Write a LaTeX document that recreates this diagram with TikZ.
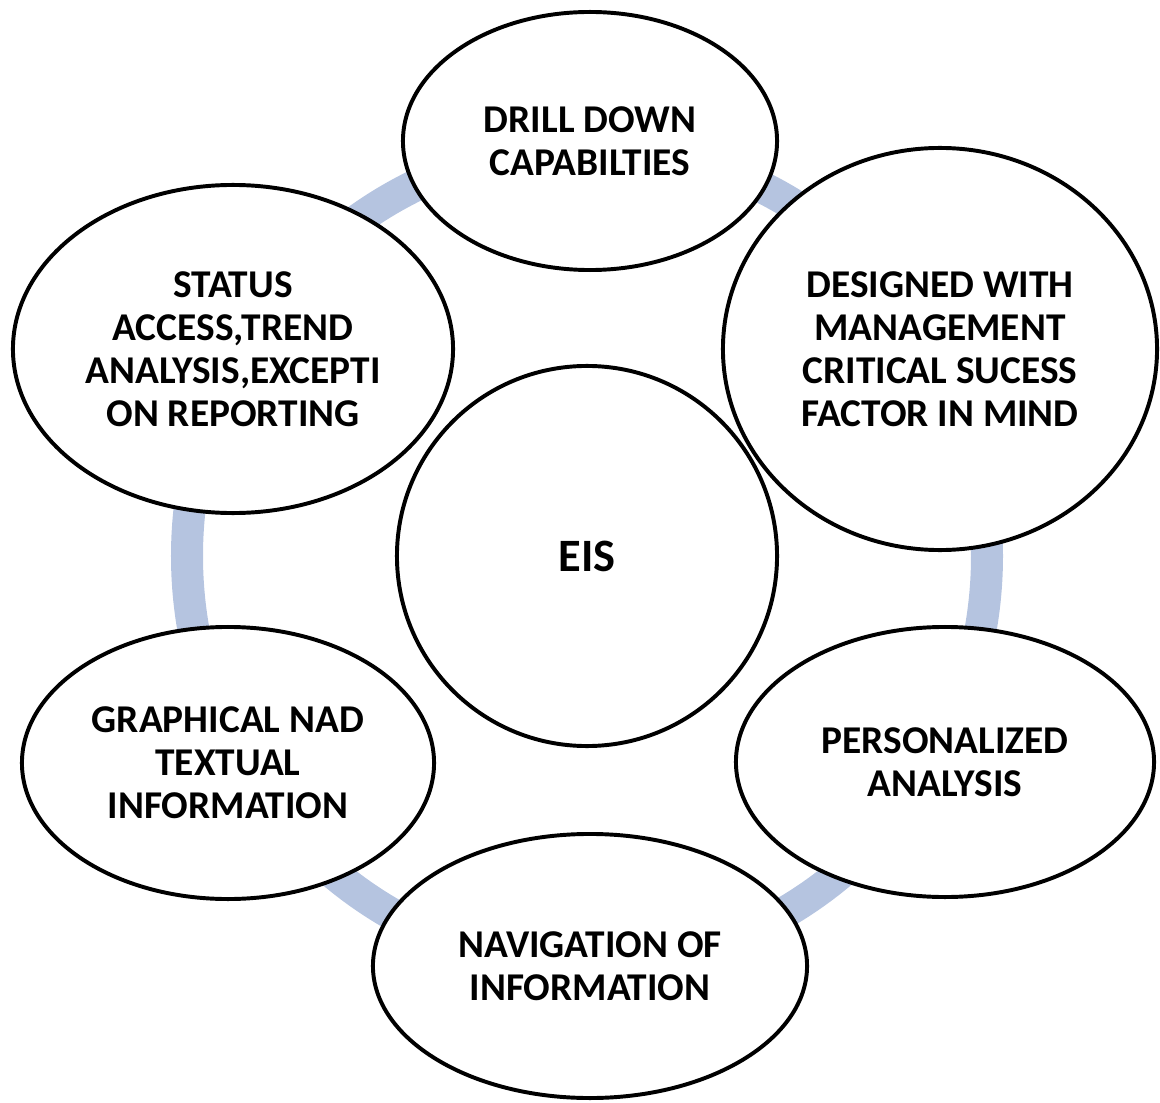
\documentclass[tikz,border=0pt]{standalone}
\usepackage{fontspec}
\setmainfont{Carlito}
\usetikzlibrary{shapes.geometric}
\definecolor{ringblue}{RGB}{181,196,224}
\begin{document}
\begin{tikzpicture}[x=0.025cm, y=-0.025cm,
    bubble/.style={ellipse, draw=black, line width=2.8pt, fill=white, inner sep=0pt,
      align=center, font=\bfseries\fontsize{28}{30.6}\selectfont},
    hub/.style={circle, draw=black, line width=2.8pt, fill=white, inner sep=0pt,
      minimum size=9.5cm, font=\bfseries\fontsize{33}{36}\selectfont},
    ring/.style={draw=ringblue, line width=0.8cm}]

      \useasboundingbox (0,0) rectangle (1160,1103);

      % Ring
      \draw[ring] (587,556) ellipse [x radius=400, y radius=410];

      % Centre
      \node[hub] (eis) at (587,556) {EIS};

      % Bubbles round the ring
      \node[bubble, minimum width=9.35cm, minimum height=6.45cm] (drill) at (590,141)
        {DRILL DOWN\\CAPABILTIES};
      \node[bubble, minimum width=10.85cm, minimum height=10.05cm] (design) at (940,349)
        {DESIGNED WITH\\MANAGEMENT\\CRITICAL SUCESS\\FACTOR IN MIND};
      \node[bubble, minimum width=10.45cm, minimum height=6.75cm] (personal) at (945,762)
        {PERSONALIZED\\ANALYSIS};
      \node[bubble, minimum width=10.85cm, minimum height=6.6cm] (navig) at (590,966)
        {NAVIGATION OF\\INFORMATION};
      \node[bubble, minimum width=10.3cm, minimum height=6.8cm] (graph) at (228,763)
        {GRAPHICAL NAD\\TEXTUAL\\INFORMATION};
      \node[bubble, minimum width=11cm, minimum height=8.2cm] (status) at (233,349)
        {STATUS\\ACCESS,TREND\\ANALYSIS,EXCEPTI\\ON REPORTING};
    \end{tikzpicture}
\end{document}
